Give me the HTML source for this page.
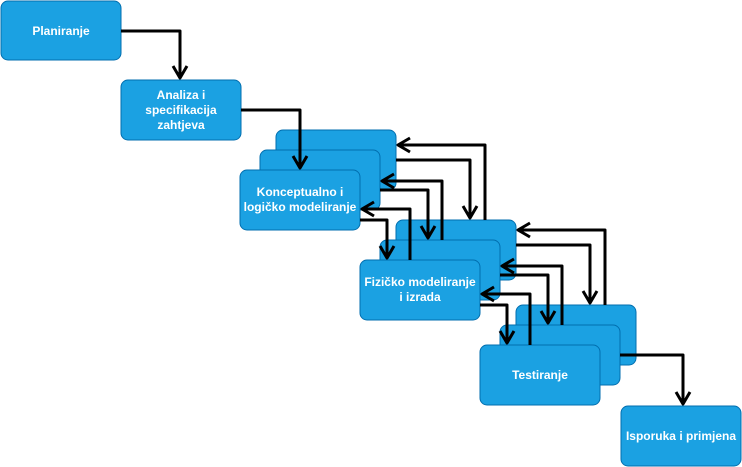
<!DOCTYPE html>
<html><head><meta charset="utf-8"><style>
html,body{margin:0;padding:0;background:#fff;width:742px;height:467px;overflow:hidden}
svg{display:block}
text{font-family:"Liberation Sans",Arial,sans-serif;font-weight:bold;font-size:12px;fill:#fff;text-anchor:middle}
.b{fill:#1ba1e2;stroke:#006eaf;stroke-width:1}
.l{fill:none;stroke:#000;stroke-width:3;stroke-linejoin:round;stroke-linecap:butt}
</style></head><body>
<svg width="742" height="467" viewBox="0 0 742 467">
<rect class="b" x="1" y="1" width="120" height="59" rx="7"/>
<text x="61" y="35">Planiranje</text>
<rect class="b" x="121" y="80" width="120" height="60" rx="7"/>
<text x="181" y="99">Analiza i</text><text x="181" y="114">specifikacija</text><text x="181" y="129">zahtjeva</text>

<rect class="b" x="276" y="130" width="120" height="60" rx="7"/>
<rect class="b" x="260" y="150" width="120" height="60" rx="7"/>
<rect class="b" x="240" y="170" width="120" height="60" rx="7"/>
<text x="300" y="196">Konceptualno i</text><text x="300" y="211">logičko modeliranje</text>

<rect class="b" x="396" y="220" width="120" height="60" rx="7"/>
<rect class="b" x="380" y="240" width="120" height="60" rx="7"/>
<rect class="b" x="360" y="260" width="120" height="60" rx="7"/>
<text x="420" y="286">Fizičko modeliranje</text><text x="420" y="301">i izrada</text>

<rect class="b" x="516" y="305" width="120" height="60" rx="7"/>
<rect class="b" x="500" y="325" width="120" height="60" rx="7"/>
<rect class="b" x="480" y="345" width="120" height="60" rx="7"/>
<text x="540" y="379">Testiranje</text>

<rect class="b" x="621" y="406" width="120" height="60" rx="7"/>
<text x="681" y="440">Isporuka i primjena</text>

<g class="l">
<path d="M121 31 H180 V78"/><path d="M173 66 L180 78 L187 66"/>
<path d="M241 110 H300 V168"/><path d="M293 156 L300 168 L307 156"/>

<path d="M396 160 H470 V218"/><path d="M463 206 L470 218 L477 206"/>
<path d="M485 220 V145 H398"/><path d="M410 138 L398 145 L410 152"/>
<path d="M380 190 H428 V238"/><path d="M421 226 L428 238 L435 226"/>
<path d="M442 240 V181 H382"/><path d="M394 174 L382 181 L394 188"/>
<path d="M360 220 H387 V258"/><path d="M380 246 L387 258 L394 246"/>
<path d="M410 260 V209 H362"/><path d="M374 202 L362 209 L374 216"/>

<path d="M516 245 H590 V303"/><path d="M583 291 L590 303 L597 291"/>
<path d="M605 305 V230 H518"/><path d="M530 223 L518 230 L530 237"/>
<path d="M500 275 H548 V323"/><path d="M541 311 L548 323 L555 311"/>
<path d="M562 325 V266 H502"/><path d="M514 259 L502 266 L514 273"/>
<path d="M480 305 H507 V343"/><path d="M500 331 L507 343 L514 331"/>
<path d="M530 345 V294 H482"/><path d="M494 287 L482 294 L494 301"/>

<path d="M620 355 H683 V404"/><path d="M676 392 L683 404 L690 392"/>
</g>
</svg>
</body></html>
